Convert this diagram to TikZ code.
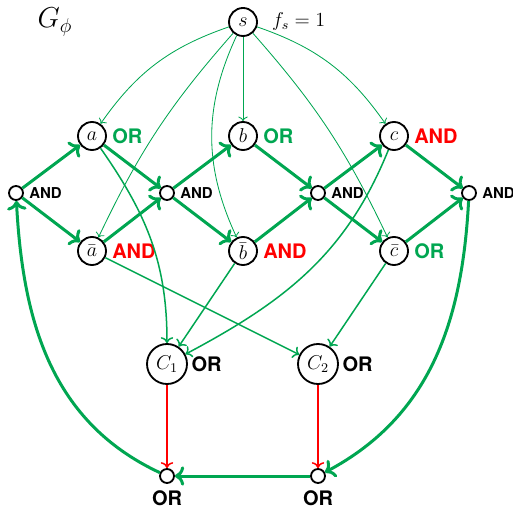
\documentclass[tikz,border=0pt]{standalone}
\usepackage{fontspec}
\setsansfont{TeX Gyre Heros}
\usetikzlibrary{arrows.meta,positioning}
\definecolor{ggreen}{RGB}{0,166,81}
\definecolor{rred}{RGB}{255,0,0}

\begin{document}
\begin{tikzpicture}[
    x=0.6pt, y=-0.6pt,
    var/.style={circle, draw, line width=1.1pt, minimum size=16.8pt, inner sep=0pt, font=\large},
    clause/.style={circle, draw, line width=1.1pt, minimum size=24pt, inner sep=0pt, font=\large},
    gate/.style={circle, draw, line width=1.1pt, minimum size=8.4pt, inner sep=0pt},
    oplab/.style={font=\sffamily\bfseries\large, inner sep=1pt},
    gatelab/.style={font=\sffamily\bfseries\small, inner sep=1pt},
    thinarrow/.style={->, ggreen, line width=0.5pt},
    midarrow/.style={->, ggreen, line width=0.9pt},
    thickarrow/.style={->, ggreen, line width=1.8pt},
    redarrow/.style={->, rred, line width=0.9pt}
]
\useasboundingbox (0,0) rectangle (513,508);

% Nodes
\node[font=\LARGE] (title) at (55,22) {$G_\phi$};
\node[var] (s) at (243,22) {$s$};
\node[font=\large, right=5pt of s] (fs) {$f_s = 1$};

\node[var] (a) at (92,136) {$a$};
\node[var] (b) at (243,136) {$b$};
\node[var] (c) at (394,136) {$c$};
\node[var] (na) at (92,251) {$\bar{a}$};
\node[var] (nb) at (243,251) {$\bar{b}$};
\node[var] (nc) at (394,251) {$\bar{c}$};

\node[oplab, ggreen, right=2pt of a] (aop) {OR};
\node[oplab, ggreen, right=2pt of b] (bop) {OR};
\node[oplab, rred, right=2pt of c] (cop) {AND};
\node[oplab, rred, right=2pt of na] (naop) {AND};
\node[oplab, rred, right=2pt of nb] (nbop) {AND};
\node[oplab, ggreen, right=2pt of nc] (ncop) {OR};

\node[gate] (g0) at (16,193) {};
\node[gate] (g1) at (167,193) {};
\node[gate] (g2) at (318,193) {};
\node[gate] (g3) at (469,193) {};
\node[gatelab, right=2pt of g0] (g0op) {AND};
\node[gatelab, right=2pt of g1] (g1op) {AND};
\node[gatelab, right=2pt of g2] (g2op) {AND};
\node[gatelab, right=2pt of g3] (g3op) {AND};

\node[clause] (C1) at (167,364) {$C_1$};
\node[clause] (C2) at (318,364) {$C_2$};
\node[oplab, right=1pt of C1] (C1op) {OR};
\node[oplab, right=1pt of C2] (C2op) {OR};

\node[gate] (o1) at (167,476) {};
\node[gate] (o2) at (318,476) {};
\node[oplab, below=3pt of o1] (o1op) {OR};
\node[oplab, below=3pt of o2] (o2op) {OR};

% Arrows from s
\draw[thinarrow] (s) to[bend right=18] (a);
\draw[thinarrow] (s) to[bend right=8] (na);
\draw[thinarrow] (s) -- (b);
\draw[thinarrow] (s) to[bend right=25] (nb);
\draw[thinarrow] (s) to[bend left=18] (c);
\draw[thinarrow] (s) to[bend left=8] (nc);

% Chain of gates
\draw[thickarrow] (g0) -- (a);
\draw[thickarrow] (g0) -- (na);
\draw[thickarrow] (a) -- (g1);
\draw[thickarrow] (na) -- (g1);
\draw[thickarrow] (g1) -- (b);
\draw[thickarrow] (g1) -- (nb);
\draw[thickarrow] (b) -- (g2);
\draw[thickarrow] (nb) -- (g2);
\draw[thickarrow] (g2) -- (c);
\draw[thickarrow] (g2) -- (nc);
\draw[thickarrow] (c) -- (g3);
\draw[thickarrow] (nc) -- (g3);

% Clauses
\draw[midarrow] (a) to[out=-55, in=90] (C1);
\draw[midarrow] (nb) -- (C1);
\draw[midarrow] (c) to[out=-112, in=28] (C1);
\draw[midarrow] (na) -- (C2);
\draw[midarrow] (nc) -- (C2);
\draw[redarrow] (C1) -- (o1);
\draw[redarrow] (C2) -- (o2);

% Back loop
\draw[thickarrow] (g3) to[out=-93, in=28] (o2);
\draw[thickarrow] (o2) -- (o1);
\draw[thickarrow] (o1) to[out=155, in=-87] (g0);

\end{tikzpicture}
\end{document}
